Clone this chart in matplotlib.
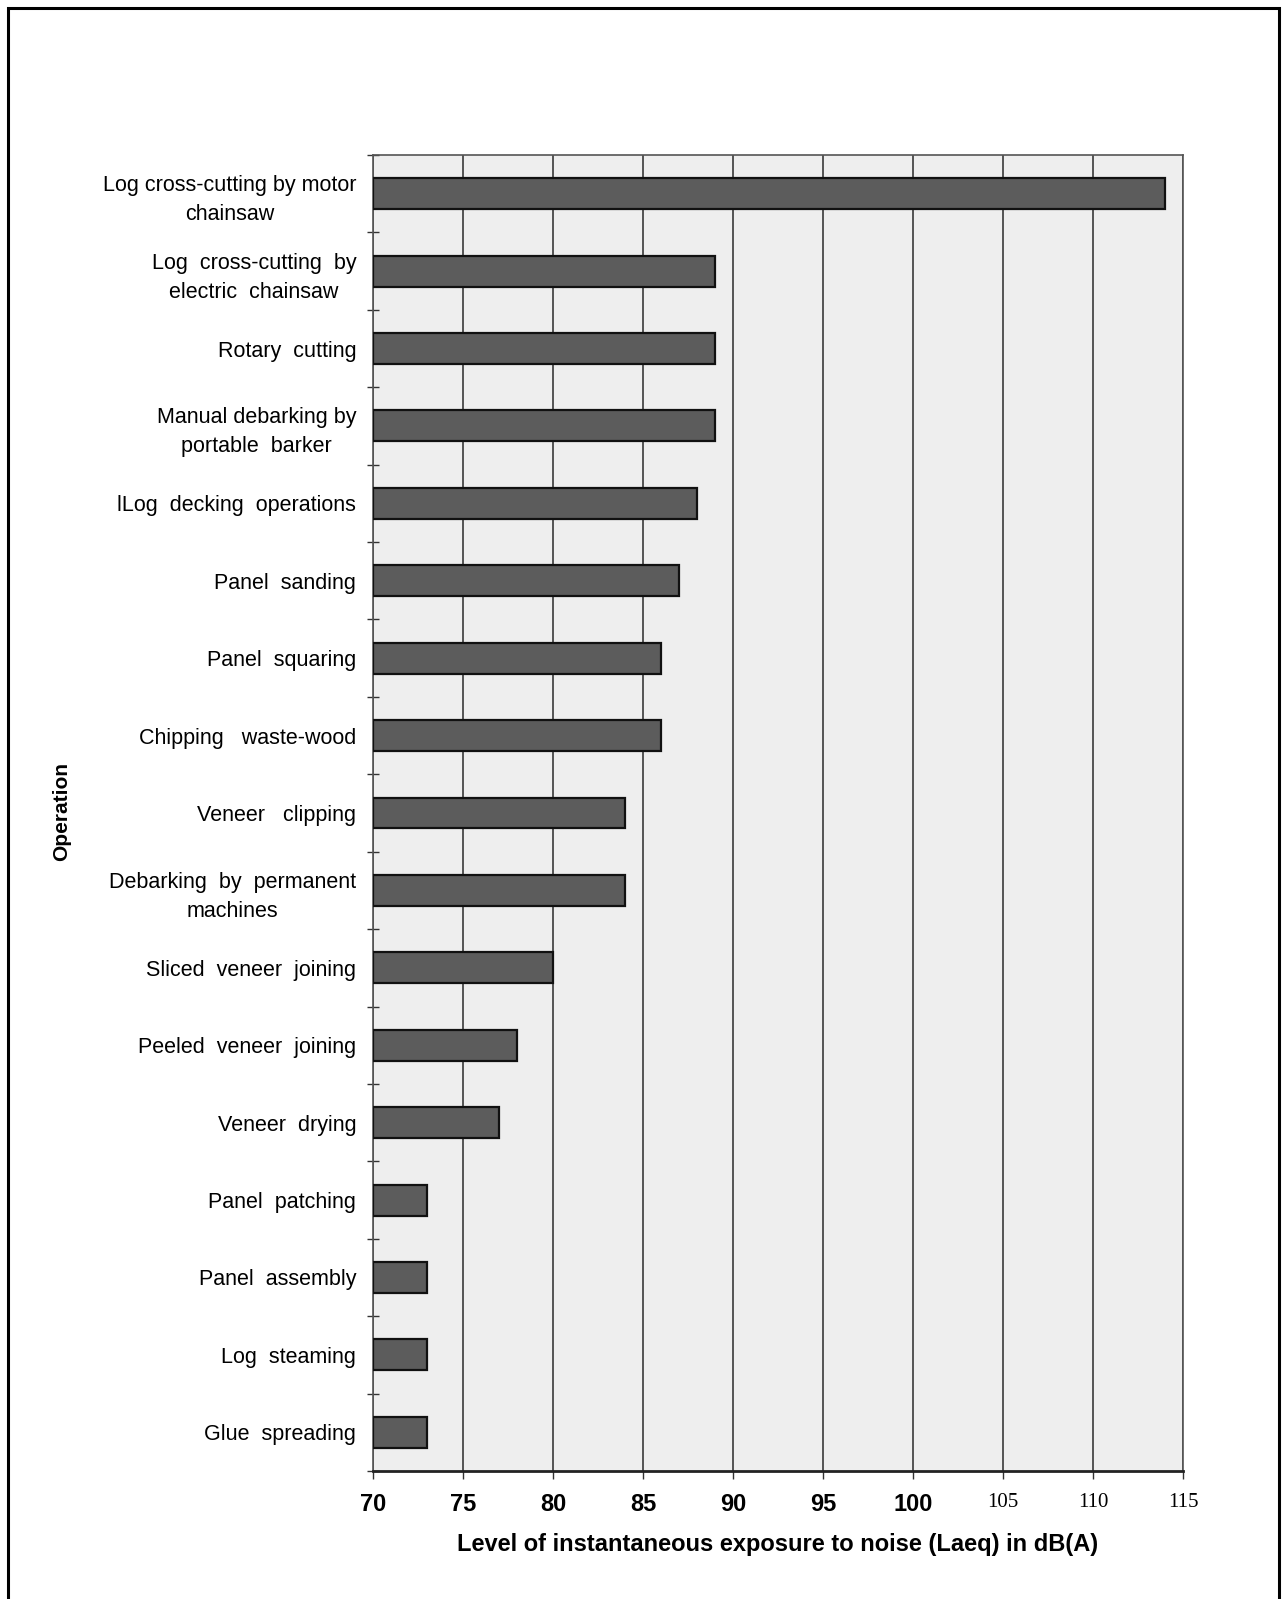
import matplotlib
matplotlib.use("Agg")
import matplotlib.pyplot as plt
from matplotlib import font_manager
from matplotlib.patches import Rectangle

operations = [
    "Log cross-cutting by motor\nchainsaw",
    "Log  cross-cutting  by\nelectric  chainsaw",
    "Rotary  cutting",
    "Manual debarking by\nportable  barker",
    "lLog  decking  operations",
    "Panel  sanding",
    "Panel  squaring",
    "Chipping   waste-wood",
    "Veneer   clipping",
    "Debarking  by  permanent\nmachines",
    "Sliced  veneer  joining",
    "Peeled  veneer  joining",
    "Veneer  drying",
    "Panel  patching",
    "Panel  assembly",
    "Log  steaming",
    "Glue  spreading",
]
laeq = [114, 89, 89, 89, 88, 87, 86, 86, 84, 84, 80, 78, 77, 73, 73, 73, 73]
xticks = [70, 75, 80, 85, 90, 95, 100, 105, 110, 115]
xlabel = "Level of instantaneous exposure to noise (Laeq) in dB(A)"
ylabel = "Operation"

names = {f.name for f in font_manager.fontManager.ttflist}
sans = "Liberation Sans" if "Liberation Sans" in names else "DejaVu Sans"
narrow = "Liberation Sans Narrow" if "Liberation Sans Narrow" in names else sans
serif = "Liberation Serif" if "Liberation Serif" in names else "DejaVu Serif"

fig = plt.figure(figsize=(12.83, 15.99), dpi=100)
ax = fig.add_axes([373/1283, 1 - 1471/1599, (1183 - 373)/1283, (1471 - 155)/1599])

n = len(operations)
ypos = list(range(n))
ax.set_facecolor("#eeeeee")
ax.barh(ypos, [v - 70 for v in laeq], left=70, height=0.40,
        color="#5c5c5c", edgecolor="#111111", linewidth=1.6, zorder=3)

ax.set_xlim(70, 115)
ax.set_ylim(n - 0.5, -0.5)
ax.set_xticks(xticks)
ax.set_xticklabels([str(t) for t in xticks])
ax.grid(axis="x", color="#2a2a2a", linewidth=1.1, zorder=1)
ax.set_axisbelow(True)

ax.set_yticks(ypos)
ax.set_yticklabels(operations, fontsize=15.5, family=sans, ha="right",
                   multialignment="center", linespacing=1.5)
ax.tick_params(axis="y", which="major", length=0, pad=12)
ax.set_yticks([i + 0.5 for i in range(-1, n)], minor=True)
ax.tick_params(axis="y", which="minor", length=8, direction="inout", color="#333333", width=1)
ax.tick_params(axis="x", length=6, direction="out", color="#333333", width=1, pad=10)

for i, lab in enumerate(ax.get_xticklabels()):
    if xticks[i] >= 105:
        lab.set_fontfamily(serif)
        lab.set_fontsize(15)
        lab.set_fontweight("normal")
    else:
        lab.set_fontfamily(narrow)
        lab.set_fontsize(17)
        lab.set_fontweight("bold")

for s in ax.spines.values():
    s.set_color("#555555")
    s.set_linewidth(1.2)
ax.spines["bottom"].set_color("#222222")
ax.spines["bottom"].set_linewidth(2)

ax.set_xlabel(xlabel, fontsize=17, fontweight="bold", family=narrow, labelpad=12)
fig.text(62/1283, 1 - 812/1599, ylabel, rotation=90, fontsize=15, fontweight="bold",
         family=sans, ha="center", va="center")

fig.patches.append(Rectangle((8/1283, -0.01), (1279 - 8)/1283, 1.01 - 8/1599,
                             transform=fig.transFigure, fill=False,
                             edgecolor="black", linewidth=2.2))

fig.savefig("out.png", dpi=100, facecolor="white")
